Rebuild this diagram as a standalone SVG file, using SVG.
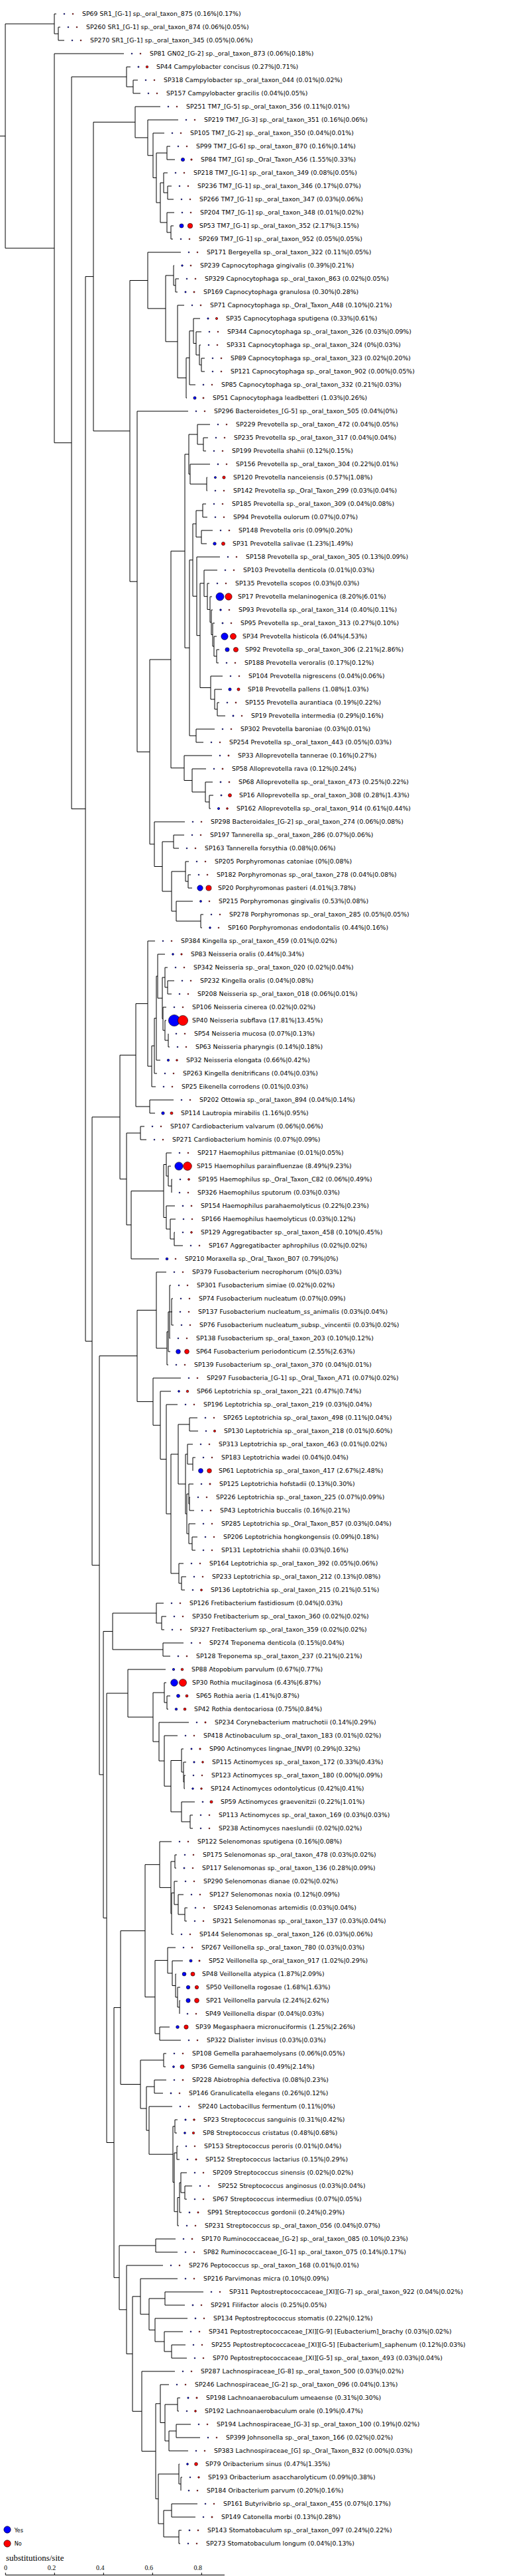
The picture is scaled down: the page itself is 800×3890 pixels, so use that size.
<svg xmlns="http://www.w3.org/2000/svg" width="800" height="3890" viewBox="0 0 800 3890">
<style>
text{font-family:"DejaVu Sans",sans-serif;font-size:9.4px;fill:#000}
circle{stroke:#000;stroke-width:0.6}
.b{fill:#0000ff}
.r{fill:#ff0000}
.tree{fill:none;stroke:#000;stroke-width:1}
.sc{font-family:"Liberation Serif",serif}
</style>
<rect width="800" height="3890" fill="#fff"/>
<g id="connectors" class="tree">
<path d="M0 205.4H8 M82 36H8V374.85H82 M85 21H82V51H88 M91 41H88V61H97 M187 81H82V668.7H108 M191 116H108V1221.45H129 M197 101H191V131H201 M208 121H201V141H212 M141 417.6H129V2025.3H139 M204 184.4H141V650.85H196 M242 161H204V207.9H223 M269 181H223V234.75H231 M248 201H231V268.5H236 M252 231H236V306H242 M257 221H252V241H264 M247 276H242V336H252 M253 261H247V291H253 M259 281H253V301H262 M263 321H252V351H258 M262 341H258V361H261"/>
<path d="M223 423.5H196V878.2H207 M273 381H223V465.9H250 M262 416H250V515.85H268 M263 401H262V431H265 M270 421H265V441H268 M278 461H268V570.7H281 M286 540.4H281V601H282 M292 499.75H286V581H295 M302 481H292V518.5H296 M304 501H296V536H301 M303 521H301V551H304 M309 541H304V561H309"/>
<path d="M284 621H207V1135.4H226 M258 996H226V1274.75H233 M279 832.2H258V1159.75H278 M285 686H279V978.3H286 M298 656H285V716H287 M317 641H298V671H307 M314 661H307V681H311 M317 701H287V731H312 M313 721H312V741H313 M291 845.7H286V1111H296 M296 791H291V900.3H297 M306 771H296V811H304 M311 761H306V781H313 M321 801H304V821H312 M332 841H297V959.7H302 M308 880.85H302V1038.5H318 M328 861H308V900.7H313 M316 881H313V920.4H317 M320 901H317V939.75H319 M321 921H319V958.5H321 M324 941H321V976H323 M327 961H323V991H327 M331 981H327V1001H330 M336 1021H318V1056H324 M335 1041H324V1071H328 M331 1061H328V1081H340 M324 1101H296V1121H307 M320 1141H278V1178.5H290 M311 1161H290V1196H310 M321 1181H310V1211H316 M322 1201H316V1221H318 M279 1241H233V1308.5H245 M262 1271H245V1346H259 M278 1261H262V1281H270 M280 1316H259V1376H266 M285 1301H280V1331H284 M288 1321H284V1341H290 M291 1361H266V1391H303 M307 1381H303V1401H305"/>
<path d="M181 1686.85H139V2363.7H150 M205 1593.3H181V1780.4H191 M223 1515.6H205V1671H226 M234 1421H223V1610.1H229 M233 1579.3H229V1641H235 M236 1537.6H233V1621H237 M238 1474.1H236V1601H242 M249 1441H238V1507.25H245 M249 1476H245V1538.5H246 M253 1461H249V1491H253 M263 1481H253V1501H259 M251 1521H246V1556H249 M251 1541H249V1571H254 M254 1561H254V1581H256 M262 1661H226V1681H234 M212 1711H191V1849.75H198 M218 1701H212V1721H221 M247 1798.5H198V1901H240 M251 1758.5H247V1838.5H251 M259 1741H251V1776H254 M258 1761H254V1791H259 M260 1781H259V1801H259 M264 1821H251V1856H257 M265 1841H257V1871H263 M264 1861H263V1881H276"/>
<path d="M207 2047.55H150V2679.9H156 M236 1978.5H207V2116.6H231 M251 1921H236V2036H252 M254 2011H252V2061H254 M256 1981H254V2041H257 M258 1941H256V2021H257 M256 1981H259 M261 1961H259V2001H262 M259 1981H260 M273 2081H231V2152.25H242 M258 2101H242V2203.5H251 M268 2121H251V2286H258 M269 2196H258V2376H270 M286 2151H269V2241H280 M298 2141H286V2161H299 M283 2196H280V2286H282 M291 2181H283V2211H291 M295 2201H291V2221H291 M285 2256H282V2316H285 M292 2241H285V2271H286 M287 2261H286V2281H293 M295 2301H285V2331H290 M298 2321H290V2341H295 M277 2361H270V2391H274 M281 2381H274V2401H279"/>
<path d="M170 2463.5H156V2896.25H161 M236 2436H170V2491H246 M247 2421H236V2451H244 M251 2441H244V2461H248 M277 2481H246V2501H257 M193 2557H161V3235.5H172 M250 2521H193V2593H231 M248 2556H231V2630H240 M251 2541H248V2571H252 M257 2561H252V2581H254 M285 2601H240V2659.1H248 M268 2621H248V2697.25H258 M274 2658.5H258V2736H274 M277 2641H274V2676H277 M281 2661H277V2691H278 M280 2681H278V2701H279 M294 2721H274V2751H287 M291 2741H287V2761H291"/>
<path d="M182 3031.6H172V3439.4H180 M219 2915.7H182V3147.5H212 M241 2815.7H219V3015.7H234 M259 2781H241V2850.4H258 M264 2811H258V2889.75H259 M267 2801H264V2821H266 M263 2858.5H259V2921H262 M268 2841H263V2876H269 M277 2861H269V2891H279 M283 2881H279V2901H282 M253 2960.4H234V3071H241 M265 2941H253V2979.75H260 M276 2961H260V2998.5H265 M266 2981H265V3016H268 M272 3001H268V3031H271 M272 3021H271V3041H271 M256 3061H241V3081H273 M247 3111H212V3184H221 M251 3101H247V3121H250 M233 3151H221V3217.1H225 M251 3141H233V3161H246 M260 3181H225V3253.2H261 M264 3211H261V3295.4H263 M268 3201H264V3221H267 M267 3251H263V3339.75H268 M269 3241H267V3261H271 M271 3318.5H268V3361H270 M273 3296H271V3341H274 M282 3281H273V3311H279 M290 3301H279V3321H282"/>
<path d="M235 3391H180V3487.8H191 M265 3381H235V3401H268 M246 3421H191V3554.6H200 M212 3467.9H200V3641.3H214 M268 3441H212V3494.75H225 M249 3471H225V3518.5H234 M307 3461H249V3481H279 M283 3501H234V3536H248 M276 3521H248V3551H259 M280 3541H259V3561H282 M264 3581H214V3701.6H235 M242 3629.75H235V3773.5H239 M255 3601H242V3658.5H249 M268 3631H249V3686H255 M272 3621H268V3641H270 M266 3671H255V3701H284 M288 3661H266V3681H302 M270 3736H239V3811H247 M271 3721H270V3751H273 M275 3741H273V3761H273 M259 3791H247V3831H270 M298 3781H259V3801H295 M274 3821H270V3841H272"/>
</g>
<g id="SP69"><circle class="b" cx="97" cy="21" r="0.9"/><circle class="r" cx="110" cy="21" r="0.9"/><text x="124" y="24.3">SP69 SR1_[G-1] sp._oral_taxon_875 (0.16%|0.17%)</text></g>
<g id="SP260"><circle class="b" cx="103" cy="41" r="0.9"/><circle class="r" cx="116" cy="41" r="0.9"/><text x="130" y="44.3">SP260 SR1_[G-1] sp._oral_taxon_874 (0.06%|0.05%)</text></g>
<g id="SP270"><circle class="b" cx="109" cy="61" r="0.9"/><circle class="r" cx="122" cy="61" r="0.9"/><text x="136" y="64.3">SP270 SR1_[G-1] sp._oral_taxon_345 (0.05%|0.06%)</text></g>
<g id="SP81"><circle class="b" cx="199" cy="81" r="0.9"/><circle class="r" cx="212" cy="81" r="0.9"/><text x="226" y="84.3">SP81 GN02_[G-2] sp._oral_taxon_873 (0.06%|0.18%)</text></g>
<g id="SP44"><circle class="b" cx="209" cy="101" r="1.09"/><circle class="r" cx="222" cy="101" r="1.77"/><text x="236" y="104.3">SP44 Campylobacter concisus (0.27%|0.71%)</text></g>
<g id="SP318"><circle class="b" cx="220" cy="121" r="0.9"/><circle class="r" cx="233" cy="121" r="0.9"/><text x="247" y="124.3">SP318 Campylobacter sp._oral_taxon_044 (0.01%|0.02%)</text></g>
<g id="SP157"><circle class="b" cx="224" cy="141" r="0.9"/><circle class="r" cx="237" cy="141" r="0.9"/><text x="251" y="144.3">SP157 Campylobacter gracilis (0.04%|0.05%)</text></g>
<g id="SP251"><circle class="b" cx="254" cy="161" r="0.9"/><circle class="r" cx="267" cy="161" r="0.9"/><text x="281" y="164.3">SP251 TM7_[G-5] sp._oral_taxon_356 (0.11%|0.01%)</text></g>
<g id="SP219"><circle class="b" cx="281" cy="181" r="0.9"/><circle class="r" cx="294" cy="181" r="0.9"/><text x="308" y="184.3">SP219 TM7_[G-3] sp._oral_taxon_351 (0.16%|0.06%)</text></g>
<g id="SP105"><circle class="b" cx="260" cy="201" r="0.9"/><circle class="r" cx="273" cy="201" r="0.9"/><text x="287" y="204.3">SP105 TM7_[G-2] sp._oral_taxon_350 (0.04%|0.01%)</text></g>
<g id="SP99"><circle class="b" cx="269" cy="221" r="0.9"/><circle class="r" cx="282" cy="221" r="0.9"/><text x="296" y="224.3">SP99 TM7_[G-6] sp._oral_taxon_870 (0.16%|0.14%)</text></g>
<g id="SP84"><circle class="b" cx="276" cy="241" r="2.61"/><circle class="r" cx="289" cy="241" r="1.21"/><text x="303" y="244.3">SP84 TM7_[G] sp._Oral_Taxon_A56 (1.55%|0.33%)</text></g>
<g id="SP218"><circle class="b" cx="265" cy="261" r="0.9"/><circle class="r" cx="278" cy="261" r="0.9"/><text x="292" y="264.3">SP218 TM7_[G-1] sp._oral_taxon_349 (0.08%|0.05%)</text></g>
<g id="SP236"><circle class="b" cx="271" cy="281" r="0.9"/><circle class="r" cx="284" cy="281" r="0.9"/><text x="298" y="284.3">SP236 TM7_[G-1] sp._oral_taxon_346 (0.17%|0.07%)</text></g>
<g id="SP266"><circle class="b" cx="274" cy="301" r="0.9"/><circle class="r" cx="287" cy="301" r="0.9"/><text x="301" y="304.3">SP266 TM7_[G-1] sp._oral_taxon_347 (0.03%|0.06%)</text></g>
<g id="SP204"><circle class="b" cx="275" cy="321" r="0.9"/><circle class="r" cx="288" cy="321" r="0.9"/><text x="302" y="324.3">SP204 TM7_[G-1] sp._oral_taxon_348 (0.01%|0.02%)</text></g>
<g id="SP53"><circle class="b" cx="274" cy="341" r="3.09"/><circle class="r" cx="287" cy="341" r="3.73"/><text x="301" y="344.3">SP53 TM7_[G-1] sp._oral_taxon_352 (2.17%|3.15%)</text></g>
<g id="SP269"><circle class="b" cx="273" cy="361" r="0.9"/><circle class="r" cx="286" cy="361" r="0.9"/><text x="300" y="364.3">SP269 TM7_[G-1] sp._oral_taxon_952 (0.05%|0.05%)</text></g>
<g id="SP171"><circle class="b" cx="285" cy="381" r="0.9"/><circle class="r" cx="298" cy="381" r="0.9"/><text x="312" y="384.3">SP171 Bergeyella sp._oral_taxon_322 (0.11%|0.05%)</text></g>
<g id="SP239"><circle class="b" cx="275" cy="401" r="1.31"/><circle class="r" cx="288" cy="401" r="0.96"/><text x="302" y="404.3">SP239 Capnocytophaga gingivalis (0.39%|0.21%)</text></g>
<g id="SP329"><circle class="b" cx="282" cy="421" r="0.9"/><circle class="r" cx="295" cy="421" r="0.9"/><text x="309" y="424.3">SP329 Capnocytophaga sp._oral_taxon_863 (0.02%|0.05%)</text></g>
<g id="SP169"><circle class="b" cx="280" cy="441" r="1.15"/><circle class="r" cx="293" cy="441" r="1.11"/><text x="307" y="444.3">SP169 Capnocytophaga granulosa (0.30%|0.28%)</text></g>
<g id="SP71"><circle class="b" cx="290" cy="461" r="0.9"/><circle class="r" cx="303" cy="461" r="0.96"/><text x="317" y="464.3">SP71 Capnocytophaga sp._Oral_Taxon_A48 (0.10%|0.21%)</text></g>
<g id="SP35"><circle class="b" cx="314" cy="481" r="1.21"/><circle class="r" cx="327" cy="481" r="1.64"/><text x="341" y="484.3">SP35 Capnocytophaga sputigena (0.33%|0.61%)</text></g>
<g id="SP344"><circle class="b" cx="316" cy="501" r="0.9"/><circle class="r" cx="329" cy="501" r="0.9"/><text x="343" y="504.3">SP344 Capnocytophaga sp._oral_taxon_326 (0.03%|0.09%)</text></g>
<g id="SP331"><circle class="b" cx="315" cy="521" r="0.9"/><circle class="r" cx="328" cy="521" r="0.9"/><text x="342" y="524.3">SP331 Capnocytophaga sp._oral_taxon_324 (0%|0.03%)</text></g>
<g id="SP89"><circle class="b" cx="321" cy="541" r="0.9"/><circle class="r" cx="334" cy="541" r="0.94"/><text x="348" y="544.3">SP89 Capnocytophaga sp._oral_taxon_323 (0.02%|0.20%)</text></g>
<g id="SP121"><circle class="b" cx="321" cy="561" r="0.9"/><circle class="r" cx="334" cy="561" r="0.9"/><text x="348" y="564.3">SP121 Capnocytophaga sp._oral_taxon_902 (0.00%|0.05%)</text></g>
<g id="SP85"><circle class="b" cx="307" cy="581" r="0.96"/><circle class="r" cx="320" cy="581" r="0.9"/><text x="334" y="584.3">SP85 Capnocytophaga sp._oral_taxon_332 (0.21%|0.03%)</text></g>
<g id="SP51"><circle class="b" cx="294" cy="601" r="2.13"/><circle class="r" cx="307" cy="601" r="1.07"/><text x="321" y="604.3">SP51 Capnocytophaga leadbetteri (1.03%|0.26%)</text></g>
<g id="SP296"><circle class="b" cx="296" cy="621" r="0.9"/><circle class="r" cx="309" cy="621" r="0.9"/><text x="323" y="624.3">SP296 Bacteroidetes_[G-5] sp._oral_taxon_505 (0.04%|0%)</text></g>
<g id="SP229"><circle class="b" cx="329" cy="641" r="0.9"/><circle class="r" cx="342" cy="641" r="0.9"/><text x="356" y="644.3">SP229 Prevotella sp._oral_taxon_472 (0.04%|0.05%)</text></g>
<g id="SP235"><circle class="b" cx="326" cy="661" r="0.9"/><circle class="r" cx="339" cy="661" r="0.9"/><text x="353" y="664.3">SP235 Prevotella sp._oral_taxon_317 (0.04%|0.04%)</text></g>
<g id="SP199"><circle class="b" cx="323" cy="681" r="0.9"/><circle class="r" cx="336" cy="681" r="0.9"/><text x="350" y="684.3">SP199 Prevotella shahii (0.12%|0.15%)</text></g>
<g id="SP156"><circle class="b" cx="329" cy="701" r="0.98"/><circle class="r" cx="342" cy="701" r="0.9"/><text x="356" y="704.3">SP156 Prevotella sp._oral_taxon_304 (0.22%|0.01%)</text></g>
<g id="SP120"><circle class="b" cx="325" cy="721" r="1.59"/><circle class="r" cx="338" cy="721" r="2.18"/><text x="352" y="724.3">SP120 Prevotella nanceiensis (0.57%|1.08%)</text></g>
<g id="SP142"><circle class="b" cx="325" cy="741" r="0.9"/><circle class="r" cx="338" cy="741" r="0.9"/><text x="352" y="744.3">SP142 Prevotella sp._Oral_Taxon_299 (0.03%|0.04%)</text></g>
<g id="SP185"><circle class="b" cx="323" cy="761" r="0.9"/><circle class="r" cx="336" cy="761" r="0.9"/><text x="350" y="764.3">SP185 Prevotella sp._oral_taxon_309 (0.04%|0.08%)</text></g>
<g id="SP94"><circle class="b" cx="325" cy="781" r="0.9"/><circle class="r" cx="338" cy="781" r="0.9"/><text x="352" y="784.3">SP94 Prevotella oulorum (0.07%|0.07%)</text></g>
<g id="SP148"><circle class="b" cx="333" cy="801" r="0.9"/><circle class="r" cx="346" cy="801" r="0.94"/><text x="360" y="804.3">SP148 Prevotella oris (0.09%|0.20%)</text></g>
<g id="SP31"><circle class="b" cx="324" cy="821" r="2.33"/><circle class="r" cx="337" cy="821" r="2.56"/><text x="351" y="824.3">SP31 Prevotella salivae (1.23%|1.49%)</text></g>
<g id="SP158"><circle class="b" cx="344" cy="841" r="0.9"/><circle class="r" cx="357" cy="841" r="0.9"/><text x="371" y="844.3">SP158 Prevotella sp._oral_taxon_305 (0.13%|0.09%)</text></g>
<g id="SP103"><circle class="b" cx="340" cy="861" r="0.9"/><circle class="r" cx="353" cy="861" r="0.9"/><text x="367" y="864.3">SP103 Prevotella denticola (0.01%|0.03%)</text></g>
<g id="SP135"><circle class="b" cx="328" cy="881" r="0.9"/><circle class="r" cx="341" cy="881" r="0.9"/><text x="355" y="884.3">SP135 Prevotella scopos (0.03%|0.03%)</text></g>
<g id="SP17"><circle class="b" cx="332" cy="901" r="6.01"/><circle class="r" cx="345" cy="901" r="5.15"/><text x="359" y="904.3">SP17 Prevotella melaninogenica (8.20%|6.01%)</text></g>
<g id="SP93"><circle class="b" cx="333" cy="921" r="1.33"/><circle class="r" cx="346" cy="921" r="0.9"/><text x="360" y="924.3">SP93 Prevotella sp._oral_taxon_314 (0.40%|0.11%)</text></g>
<g id="SP95"><circle class="b" cx="336" cy="941" r="1.09"/><circle class="r" cx="349" cy="941" r="0.9"/><text x="363" y="944.3">SP95 Prevotella sp._oral_taxon_313 (0.27%|0.10%)</text></g>
<g id="SP34"><circle class="b" cx="339" cy="961" r="5.16"/><circle class="r" cx="352" cy="961" r="4.47"/><text x="366" y="964.3">SP34 Prevotella histicola (6.04%|4.53%)</text></g>
<g id="SP92"><circle class="b" cx="343" cy="981" r="3.12"/><circle class="r" cx="356" cy="981" r="3.55"/><text x="370" y="984.3">SP92 Prevotella sp._oral_taxon_306 (2.21%|2.86%)</text></g>
<g id="SP188"><circle class="b" cx="342" cy="1001" r="0.9"/><circle class="r" cx="355" cy="1001" r="0.9"/><text x="369" y="1004.3">SP188 Prevotella veroralis (0.17%|0.12%)</text></g>
<g id="SP104"><circle class="b" cx="348" cy="1021" r="0.9"/><circle class="r" cx="361" cy="1021" r="0.9"/><text x="375" y="1024.3">SP104 Prevotella nigrescens (0.04%|0.06%)</text></g>
<g id="SP18"><circle class="b" cx="347" cy="1041" r="2.18"/><circle class="r" cx="360" cy="1041" r="2.13"/><text x="374" y="1044.3">SP18 Prevotella pallens (1.08%|1.03%)</text></g>
<g id="SP155"><circle class="b" cx="343" cy="1061" r="0.9"/><circle class="r" cx="356" cy="1061" r="0.98"/><text x="370" y="1064.3">SP155 Prevotella aurantiaca (0.19%|0.22%)</text></g>
<g id="SP19"><circle class="b" cx="352" cy="1081" r="1.13"/><circle class="r" cx="365" cy="1081" r="0.9"/><text x="379" y="1084.3">SP19 Prevotella intermedia (0.29%|0.16%)</text></g>
<g id="SP302"><circle class="b" cx="336" cy="1101" r="0.9"/><circle class="r" cx="349" cy="1101" r="0.9"/><text x="363" y="1104.3">SP302 Prevotella baroniae (0.03%|0.01%)</text></g>
<g id="SP254"><circle class="b" cx="319" cy="1121" r="0.9"/><circle class="r" cx="332" cy="1121" r="0.9"/><text x="346" y="1124.3">SP254 Prevotella sp._oral_taxon_443 (0.05%|0.03%)</text></g>
<g id="SP33"><circle class="b" cx="332" cy="1141" r="0.9"/><circle class="r" cx="345" cy="1141" r="1.09"/><text x="359" y="1144.3">SP33 Alloprevotella tannerae (0.16%|0.27%)</text></g>
<g id="SP58"><circle class="b" cx="323" cy="1161" r="0.9"/><circle class="r" cx="336" cy="1161" r="1.03"/><text x="350" y="1164.3">SP58 Alloprevotella rava (0.12%|0.24%)</text></g>
<g id="SP68"><circle class="b" cx="333" cy="1181" r="1.05"/><circle class="r" cx="346" cy="1181" r="0.98"/><text x="360" y="1184.3">SP68 Alloprevotella sp._oral_taxon_473 (0.25%|0.22%)</text></g>
<g id="SP16"><circle class="b" cx="334" cy="1201" r="1.11"/><circle class="r" cx="347" cy="1201" r="2.51"/><text x="361" y="1204.3">SP16 Alloprevotella sp._oral_taxon_308 (0.28%|1.43%)</text></g>
<g id="SP162"><circle class="b" cx="330" cy="1221" r="1.64"/><circle class="r" cx="343" cy="1221" r="1.39"/><text x="357" y="1224.3">SP162 Alloprevotella sp._oral_taxon_914 (0.61%|0.44%)</text></g>
<g id="SP298"><circle class="b" cx="291" cy="1241" r="0.9"/><circle class="r" cx="304" cy="1241" r="0.9"/><text x="318" y="1244.3">SP298 Bacteroidales_[G-2] sp._oral_taxon_274 (0.06%|0.08%)</text></g>
<g id="SP197"><circle class="b" cx="290" cy="1261" r="0.9"/><circle class="r" cx="303" cy="1261" r="0.9"/><text x="317" y="1264.3">SP197 Tannerella sp._oral_taxon_286 (0.07%|0.06%)</text></g>
<g id="SP163"><circle class="b" cx="282" cy="1281" r="0.9"/><circle class="r" cx="295" cy="1281" r="0.9"/><text x="309" y="1284.3">SP163 Tannerella forsythia (0.08%|0.06%)</text></g>
<g id="SP205"><circle class="b" cx="297" cy="1301" r="0.9"/><circle class="r" cx="310" cy="1301" r="0.9"/><text x="324" y="1304.3">SP205 Porphyromonas catoniae (0%|0.08%)</text></g>
<g id="SP182"><circle class="b" cx="300" cy="1321" r="0.9"/><circle class="r" cx="313" cy="1321" r="0.9"/><text x="327" y="1324.3">SP182 Porphyromonas sp._oral_taxon_278 (0.04%|0.08%)</text></g>
<g id="SP20"><circle class="b" cx="302" cy="1341" r="4.21"/><circle class="r" cx="315" cy="1341" r="4.08"/><text x="329" y="1344.3">SP20 Porphyromonas pasteri (4.01%|3.78%)</text></g>
<g id="SP215"><circle class="b" cx="303" cy="1361" r="1.53"/><circle class="r" cx="316" cy="1361" r="0.9"/><text x="330" y="1364.3">SP215 Porphyromonas gingivalis (0.53%|0.08%)</text></g>
<g id="SP278"><circle class="b" cx="319" cy="1381" r="0.9"/><circle class="r" cx="332" cy="1381" r="0.9"/><text x="346" y="1384.3">SP278 Porphyromonas sp._oral_taxon_285 (0.05%|0.05%)</text></g>
<g id="SP160"><circle class="b" cx="317" cy="1401" r="1.39"/><circle class="r" cx="330" cy="1401" r="0.9"/><text x="344" y="1404.3">SP160 Porphyromonas endodontalis (0.44%|0.16%)</text></g>
<g id="SP384"><circle class="b" cx="246" cy="1421" r="0.9"/><circle class="r" cx="259" cy="1421" r="0.9"/><text x="273" y="1424.3">SP384 Kingella sp._oral_taxon_459 (0.01%|0.02%)</text></g>
<g id="SP83"><circle class="b" cx="261" cy="1441" r="1.39"/><circle class="r" cx="274" cy="1441" r="1.22"/><text x="288" y="1444.3">SP83 Neisseria oralis (0.44%|0.34%)</text></g>
<g id="SP342"><circle class="b" cx="265" cy="1461" r="0.9"/><circle class="r" cx="278" cy="1461" r="0.9"/><text x="292" y="1464.3">SP342 Neisseria sp._oral_taxon_020 (0.02%|0.04%)</text></g>
<g id="SP232"><circle class="b" cx="275" cy="1481" r="0.9"/><circle class="r" cx="288" cy="1481" r="0.9"/><text x="302" y="1484.3">SP232 Kingella oralis (0.04%|0.08%)</text></g>
<g id="SP208"><circle class="b" cx="271" cy="1501" r="0.9"/><circle class="r" cx="284" cy="1501" r="0.9"/><text x="298" y="1504.3">SP208 Neisseria sp._oral_taxon_018 (0.06%|0.01%)</text></g>
<g id="SP106"><circle class="b" cx="263" cy="1521" r="0.9"/><circle class="r" cx="276" cy="1521" r="0.9"/><text x="290" y="1524.3">SP106 Neisseria cinerea (0.02%|0.02%)</text></g>
<g id="SP40"><circle class="b" cx="263" cy="1541" r="8.6"/><circle class="r" cx="276" cy="1541" r="7.6"/><text x="290" y="1544.3">SP40 Neisseria subflava (17.81%|13.45%)</text></g>
<g id="SP54"><circle class="b" cx="266" cy="1561" r="0.9"/><circle class="r" cx="279" cy="1561" r="0.9"/><text x="293" y="1564.3">SP54 Neisseria mucosa (0.07%|0.13%)</text></g>
<g id="SP63"><circle class="b" cx="268" cy="1581" r="0.9"/><circle class="r" cx="281" cy="1581" r="0.9"/><text x="295" y="1584.3">SP63 Neisseria pharyngis (0.14%|0.18%)</text></g>
<g id="SP32"><circle class="b" cx="254" cy="1601" r="1.71"/><circle class="r" cx="267" cy="1601" r="1.36"/><text x="281" y="1604.3">SP32 Neisseria elongata (0.66%|0.42%)</text></g>
<g id="SP263"><circle class="b" cx="249" cy="1621" r="0.9"/><circle class="r" cx="262" cy="1621" r="0.9"/><text x="276" y="1624.3">SP263 Kingella denitrificans (0.04%|0.03%)</text></g>
<g id="SP25"><circle class="b" cx="247" cy="1641" r="0.9"/><circle class="r" cx="260" cy="1641" r="0.9"/><text x="274" y="1644.3">SP25 Eikenella corrodens (0.01%|0.03%)</text></g>
<g id="SP202"><circle class="b" cx="274" cy="1661" r="0.9"/><circle class="r" cx="287" cy="1661" r="0.9"/><text x="301" y="1664.3">SP202 Ottowia sp._oral_taxon_894 (0.04%|0.14%)</text></g>
<g id="SP114"><circle class="b" cx="246" cy="1681" r="2.26"/><circle class="r" cx="259" cy="1681" r="2.05"/><text x="273" y="1684.3">SP114 Lautropia mirabilis (1.16%|0.95%)</text></g>
<g id="SP107"><circle class="b" cx="230" cy="1701" r="0.9"/><circle class="r" cx="243" cy="1701" r="0.9"/><text x="257" y="1704.3">SP107 Cardiobacterium valvarum (0.06%|0.06%)</text></g>
<g id="SP271"><circle class="b" cx="233" cy="1721" r="0.9"/><circle class="r" cx="246" cy="1721" r="0.9"/><text x="260" y="1724.3">SP271 Cardiobacterium hominis (0.07%|0.09%)</text></g>
<g id="SP217"><circle class="b" cx="271" cy="1741" r="0.9"/><circle class="r" cx="284" cy="1741" r="0.9"/><text x="298" y="1744.3">SP217 Haemophilus pittmaniae (0.01%|0.05%)</text></g>
<g id="SP15"><circle class="b" cx="270" cy="1761" r="6.12"/><circle class="r" cx="283" cy="1761" r="6.38"/><text x="297" y="1764.3">SP15 Haemophilus parainfluenzae (8.49%|9.23%)</text></g>
<g id="SP195"><circle class="b" cx="272" cy="1781" r="0.9"/><circle class="r" cx="285" cy="1781" r="1.47"/><text x="299" y="1784.3">SP195 Haemophilus sp._Oral_Taxon_C82 (0.06%|0.49%)</text></g>
<g id="SP326"><circle class="b" cx="271" cy="1801" r="0.9"/><circle class="r" cx="284" cy="1801" r="0.9"/><text x="298" y="1804.3">SP326 Haemophilus sputorum (0.03%|0.03%)</text></g>
<g id="SP154"><circle class="b" cx="276" cy="1821" r="0.98"/><circle class="r" cx="289" cy="1821" r="1.0"/><text x="303" y="1824.3">SP154 Haemophilus parahaemolyticus (0.22%|0.23%)</text></g>
<g id="SP166"><circle class="b" cx="277" cy="1841" r="0.9"/><circle class="r" cx="290" cy="1841" r="0.9"/><text x="304" y="1844.3">SP166 Haemophilus haemolyticus (0.03%|0.12%)</text></g>
<g id="SP129"><circle class="b" cx="276" cy="1861" r="0.9"/><circle class="r" cx="289" cy="1861" r="1.41"/><text x="303" y="1864.3">SP129 Aggregatibacter sp._oral_taxon_458 (0.10%|0.45%)</text></g>
<g id="SP167"><circle class="b" cx="288" cy="1881" r="0.9"/><circle class="r" cx="301" cy="1881" r="0.9"/><text x="315" y="1884.3">SP167 Aggregatibacter aphrophilus (0.02%|0.02%)</text></g>
<g id="SP210"><circle class="b" cx="252" cy="1901" r="1.87"/><circle class="r" cx="265" cy="1901" r="0.9"/><text x="279" y="1904.3">SP210 Moraxella sp._Oral_Taxon_B07 (0.79%|0%)</text></g>
<g id="SP379"><circle class="b" cx="263" cy="1921" r="0.9"/><circle class="r" cx="276" cy="1921" r="0.9"/><text x="290" y="1924.3">SP379 Fusobacterium necrophorum (0%|0.03%)</text></g>
<g id="SP301"><circle class="b" cx="270" cy="1941" r="0.9"/><circle class="r" cx="283" cy="1941" r="0.9"/><text x="297" y="1944.3">SP301 Fusobacterium simiae (0.02%|0.02%)</text></g>
<g id="SP74"><circle class="b" cx="273" cy="1961" r="0.9"/><circle class="r" cx="286" cy="1961" r="0.9"/><text x="300" y="1964.3">SP74 Fusobacterium nucleatum (0.07%|0.09%)</text></g>
<g id="SP137"><circle class="b" cx="272" cy="1981" r="0.9"/><circle class="r" cx="285" cy="1981" r="0.9"/><text x="299" y="1984.3">SP137 Fusobacterium nucleatum_ss_animalis (0.03%|0.04%)</text></g>
<g id="SP76"><circle class="b" cx="274" cy="2001" r="0.9"/><circle class="r" cx="287" cy="2001" r="0.9"/><text x="301" y="2004.3">SP76 Fusobacterium nucleatum_subsp._vincentii (0.03%|0.02%)</text></g>
<g id="SP138"><circle class="b" cx="269" cy="2021" r="0.9"/><circle class="r" cx="282" cy="2021" r="0.9"/><text x="296" y="2024.3">SP138 Fusobacterium sp._oral_taxon_203 (0.10%|0.12%)</text></g>
<g id="SP64"><circle class="b" cx="269" cy="2041" r="3.35"/><circle class="r" cx="282" cy="2041" r="3.41"/><text x="296" y="2044.3">SP64 Fusobacterium periodonticum (2.55%|2.63%)</text></g>
<g id="SP139"><circle class="b" cx="266" cy="2061" r="0.9"/><circle class="r" cx="279" cy="2061" r="0.9"/><text x="293" y="2064.3">SP139 Fusobacterium sp._oral_taxon_370 (0.04%|0.01%)</text></g>
<g id="SP297"><circle class="b" cx="285" cy="2081" r="0.9"/><circle class="r" cx="298" cy="2081" r="0.9"/><text x="312" y="2084.3">SP297 Fusobacteria_[G-1] sp._Oral_Taxon_A71 (0.07%|0.02%)</text></g>
<g id="SP66"><circle class="b" cx="270" cy="2101" r="1.44"/><circle class="r" cx="283" cy="2101" r="1.81"/><text x="297" y="2104.3">SP66 Leptotrichia sp._oral_taxon_221 (0.47%|0.74%)</text></g>
<g id="SP196"><circle class="b" cx="280" cy="2121" r="0.9"/><circle class="r" cx="293" cy="2121" r="0.9"/><text x="307" y="2124.3">SP196 Leptotrichia sp._oral_taxon_219 (0.03%|0.04%)</text></g>
<g id="SP265"><circle class="b" cx="310" cy="2141" r="0.9"/><circle class="r" cx="323" cy="2141" r="0.9"/><text x="337" y="2144.3">SP265 Leptotrichia sp._oral_taxon_498 (0.11%|0.04%)</text></g>
<g id="SP130"><circle class="b" cx="311" cy="2161" r="0.9"/><circle class="r" cx="324" cy="2161" r="1.63"/><text x="338" y="2164.3">SP130 Leptotrichia sp._oral_taxon_218 (0.01%|0.60%)</text></g>
<g id="SP313"><circle class="b" cx="303" cy="2181" r="0.9"/><circle class="r" cx="316" cy="2181" r="0.9"/><text x="330" y="2184.3">SP313 Leptotrichia sp._oral_taxon_463 (0.01%|0.02%)</text></g>
<g id="SP183"><circle class="b" cx="307" cy="2201" r="0.9"/><circle class="r" cx="320" cy="2201" r="0.9"/><text x="334" y="2204.3">SP183 Leptotrichia wadei (0.04%|0.04%)</text></g>
<g id="SP61"><circle class="b" cx="303" cy="2221" r="3.43"/><circle class="r" cx="316" cy="2221" r="3.31"/><text x="330" y="2224.3">SP61 Leptotrichia sp._oral_taxon_417 (2.67%|2.48%)</text></g>
<g id="SP125"><circle class="b" cx="304" cy="2241" r="0.9"/><circle class="r" cx="317" cy="2241" r="1.15"/><text x="331" y="2244.3">SP125 Leptotrichia hofstadii (0.13%|0.30%)</text></g>
<g id="SP226"><circle class="b" cx="299" cy="2261" r="0.9"/><circle class="r" cx="312" cy="2261" r="0.9"/><text x="326" y="2264.3">SP226 Leptotrichia sp._oral_taxon_225 (0.07%|0.09%)</text></g>
<g id="SP43"><circle class="b" cx="305" cy="2281" r="0.9"/><circle class="r" cx="318" cy="2281" r="0.96"/><text x="332" y="2284.3">SP43 Leptotrichia buccalis (0.16%|0.21%)</text></g>
<g id="SP285"><circle class="b" cx="307" cy="2301" r="0.9"/><circle class="r" cx="320" cy="2301" r="0.9"/><text x="334" y="2304.3">SP285 Leptotrichia sp._Oral_Taxon_B57 (0.03%|0.04%)</text></g>
<g id="SP206"><circle class="b" cx="310" cy="2321" r="0.9"/><circle class="r" cx="323" cy="2321" r="0.9"/><text x="337" y="2324.3">SP206 Leptotrichia hongkongensis (0.09%|0.18%)</text></g>
<g id="SP131"><circle class="b" cx="307" cy="2341" r="0.9"/><circle class="r" cx="320" cy="2341" r="0.9"/><text x="334" y="2344.3">SP131 Leptotrichia shahii (0.03%|0.16%)</text></g>
<g id="SP164"><circle class="b" cx="289" cy="2361" r="0.9"/><circle class="r" cx="302" cy="2361" r="0.9"/><text x="316" y="2364.3">SP164 Leptotrichia sp._oral_taxon_392 (0.05%|0.06%)</text></g>
<g id="SP233"><circle class="b" cx="293" cy="2381" r="0.9"/><circle class="r" cx="306" cy="2381" r="0.9"/><text x="320" y="2384.3">SP233 Leptotrichia sp._oral_taxon_212 (0.13%|0.08%)</text></g>
<g id="SP136"><circle class="b" cx="291" cy="2401" r="0.96"/><circle class="r" cx="304" cy="2401" r="1.5"/><text x="318" y="2404.3">SP136 Leptotrichia sp._oral_taxon_215 (0.21%|0.51%)</text></g>
<g id="SP126"><circle class="b" cx="259" cy="2421" r="0.9"/><circle class="r" cx="272" cy="2421" r="0.9"/><text x="286" y="2424.3">SP126 Fretibacterium fastidiosum (0.04%|0.03%)</text></g>
<g id="SP350"><circle class="b" cx="263" cy="2441" r="0.9"/><circle class="r" cx="276" cy="2441" r="0.9"/><text x="290" y="2444.3">SP350 Fretibacterium sp._oral_taxon_360 (0.02%|0.02%)</text></g>
<g id="SP327"><circle class="b" cx="260" cy="2461" r="0.9"/><circle class="r" cx="273" cy="2461" r="0.9"/><text x="287" y="2464.3">SP327 Fretibacterium sp._oral_taxon_359 (0.02%|0.02%)</text></g>
<g id="SP274"><circle class="b" cx="289" cy="2481" r="0.9"/><circle class="r" cx="302" cy="2481" r="0.9"/><text x="316" y="2484.3">SP274 Treponema denticola (0.15%|0.04%)</text></g>
<g id="SP128"><circle class="b" cx="269" cy="2501" r="0.96"/><circle class="r" cx="282" cy="2501" r="0.96"/><text x="296" y="2504.3">SP128 Treponema sp._oral_taxon_237 (0.21%|0.21%)</text></g>
<g id="SP88"><circle class="b" cx="262" cy="2521" r="1.72"/><circle class="r" cx="275" cy="2521" r="1.84"/><text x="289" y="2524.3">SP88 Atopobium parvulum (0.67%|0.77%)</text></g>
<g id="SP30"><circle class="b" cx="263" cy="2541" r="5.33"/><circle class="r" cx="276" cy="2541" r="5.5"/><text x="290" y="2544.3">SP30 Rothia mucilaginosa (6.43%|6.87%)</text></g>
<g id="SP65"><circle class="b" cx="269" cy="2561" r="2.49"/><circle class="r" cx="282" cy="2561" r="1.96"/><text x="296" y="2564.3">SP65 Rothia aeria (1.41%|0.87%)</text></g>
<g id="SP42"><circle class="b" cx="266" cy="2581" r="1.82"/><circle class="r" cx="279" cy="2581" r="1.92"/><text x="293" y="2584.3">SP42 Rothia dentocariosa (0.75%|0.84%)</text></g>
<g id="SP234"><circle class="b" cx="297" cy="2601" r="0.9"/><circle class="r" cx="310" cy="2601" r="1.13"/><text x="324" y="2604.3">SP234 Corynebacterium matruchotii (0.14%|0.29%)</text></g>
<g id="SP418"><circle class="b" cx="280" cy="2621" r="0.9"/><circle class="r" cx="293" cy="2621" r="0.9"/><text x="307" y="2624.3">SP418 Actinobaculum sp._oral_taxon_183 (0.01%|0.02%)</text></g>
<g id="SP90"><circle class="b" cx="289" cy="2641" r="1.13"/><circle class="r" cx="302" cy="2641" r="1.19"/><text x="316" y="2644.3">SP90 Actinomyces lingnae_[NVP] (0.29%|0.32%)</text></g>
<g id="SP115"><circle class="b" cx="293" cy="2661" r="1.21"/><circle class="r" cx="306" cy="2661" r="1.38"/><text x="320" y="2664.3">SP115 Actinomyces sp._oral_taxon_172 (0.33%|0.43%)</text></g>
<g id="SP123"><circle class="b" cx="292" cy="2681" r="0.9"/><circle class="r" cx="305" cy="2681" r="0.9"/><text x="319" y="2684.3">SP123 Actinomyces sp._oral_taxon_180 (0.00%|0.09%)</text></g>
<g id="SP124"><circle class="b" cx="291" cy="2701" r="1.36"/><circle class="r" cx="304" cy="2701" r="1.34"/><text x="318" y="2704.3">SP124 Actinomyces odontolyticus (0.42%|0.41%)</text></g>
<g id="SP59"><circle class="b" cx="306" cy="2721" r="0.98"/><circle class="r" cx="319" cy="2721" r="2.11"/><text x="333" y="2724.3">SP59 Actinomyces graevenitzii (0.22%|1.01%)</text></g>
<g id="SP113"><circle class="b" cx="303" cy="2741" r="0.9"/><circle class="r" cx="316" cy="2741" r="0.9"/><text x="330" y="2744.3">SP113 Actinomyces sp._oral_taxon_169 (0.03%|0.03%)</text></g>
<g id="SP238"><circle class="b" cx="303" cy="2761" r="0.9"/><circle class="r" cx="316" cy="2761" r="0.9"/><text x="330" y="2764.3">SP238 Actinomyces naeslundii (0.02%|0.02%)</text></g>
<g id="SP122"><circle class="b" cx="271" cy="2781" r="0.9"/><circle class="r" cx="284" cy="2781" r="0.9"/><text x="298" y="2784.3">SP122 Selenomonas sputigena (0.16%|0.08%)</text></g>
<g id="SP175"><circle class="b" cx="279" cy="2801" r="0.9"/><circle class="r" cx="292" cy="2801" r="0.9"/><text x="306" y="2804.3">SP175 Selenomonas sp._oral_taxon_478 (0.03%|0.02%)</text></g>
<g id="SP117"><circle class="b" cx="278" cy="2821" r="1.11"/><circle class="r" cx="291" cy="2821" r="0.9"/><text x="305" y="2824.3">SP117 Selenomonas sp._oral_taxon_136 (0.28%|0.09%)</text></g>
<g id="SP290"><circle class="b" cx="280" cy="2841" r="0.9"/><circle class="r" cx="293" cy="2841" r="0.9"/><text x="307" y="2844.3">SP290 Selenomonas dianae (0.02%|0.02%)</text></g>
<g id="SP127"><circle class="b" cx="289" cy="2861" r="0.9"/><circle class="r" cx="302" cy="2861" r="0.9"/><text x="316" y="2864.3">SP127 Selenomonas noxia (0.12%|0.09%)</text></g>
<g id="SP243"><circle class="b" cx="295" cy="2881" r="0.9"/><circle class="r" cx="308" cy="2881" r="0.9"/><text x="322" y="2884.3">SP243 Selenomonas artemidis (0.03%|0.04%)</text></g>
<g id="SP321"><circle class="b" cx="294" cy="2901" r="0.9"/><circle class="r" cx="307" cy="2901" r="0.9"/><text x="321" y="2904.3">SP321 Selenomonas sp._oral_taxon_137 (0.03%|0.04%)</text></g>
<g id="SP144"><circle class="b" cx="274" cy="2921" r="0.9"/><circle class="r" cx="287" cy="2921" r="0.9"/><text x="301" y="2924.3">SP144 Selenomonas sp._oral_taxon_126 (0.03%|0.06%)</text></g>
<g id="SP267"><circle class="b" cx="277" cy="2941" r="0.9"/><circle class="r" cx="290" cy="2941" r="0.9"/><text x="304" y="2944.3">SP267 Veillonella sp._oral_taxon_780 (0.03%|0.03%)</text></g>
<g id="SP52"><circle class="b" cx="288" cy="2961" r="2.12"/><circle class="r" cx="301" cy="2961" r="1.13"/><text x="315" y="2964.3">SP52 Veillonella sp._oral_taxon_917 (1.02%|0.29%)</text></g>
<g id="SP48"><circle class="b" cx="278" cy="2981" r="2.87"/><circle class="r" cx="291" cy="2981" r="3.04"/><text x="305" y="2984.3">SP48 Veillonella atypica (1.87%|2.09%)</text></g>
<g id="SP50"><circle class="b" cx="284" cy="3001" r="2.72"/><circle class="r" cx="297" cy="3001" r="2.68"/><text x="311" y="3004.3">SP50 Veillonella rogosae (1.68%|1.63%)</text></g>
<g id="SP21"><circle class="b" cx="284" cy="3021" r="3.14"/><circle class="r" cx="297" cy="3021" r="3.4"/><text x="311" y="3024.3">SP21 Veillonella parvula (2.24%|2.62%)</text></g>
<g id="SP49"><circle class="b" cx="283" cy="3041" r="0.9"/><circle class="r" cx="296" cy="3041" r="0.9"/><text x="310" y="3044.3">SP49 Veillonella dispar (0.04%|0.03%)</text></g>
<g id="SP39"><circle class="b" cx="268" cy="3061" r="2.35"/><circle class="r" cx="281" cy="3061" r="3.16"/><text x="295" y="3064.3">SP39 Megasphaera micronuciformis (1.25%|2.26%)</text></g>
<g id="SP322"><circle class="b" cx="285" cy="3081" r="0.9"/><circle class="r" cx="298" cy="3081" r="0.9"/><text x="312" y="3084.3">SP322 Dialister invisus (0.03%|0.03%)</text></g>
<g id="SP108"><circle class="b" cx="263" cy="3101" r="0.9"/><circle class="r" cx="276" cy="3101" r="0.9"/><text x="290" y="3104.3">SP108 Gemella parahaemolysans (0.06%|0.05%)</text></g>
<g id="SP36"><circle class="b" cx="262" cy="3121" r="1.47"/><circle class="r" cx="275" cy="3121" r="3.07"/><text x="289" y="3124.3">SP36 Gemella sanguinis (0.49%|2.14%)</text></g>
<g id="SP228"><circle class="b" cx="263" cy="3141" r="0.9"/><circle class="r" cx="276" cy="3141" r="1.0"/><text x="290" y="3144.3">SP228 Abiotrophia defectiva (0.08%|0.23%)</text></g>
<g id="SP146"><circle class="b" cx="258" cy="3161" r="1.07"/><circle class="r" cx="271" cy="3161" r="0.9"/><text x="285" y="3164.3">SP146 Granulicatella elegans (0.26%|0.12%)</text></g>
<g id="SP240"><circle class="b" cx="272" cy="3181" r="0.9"/><circle class="r" cx="285" cy="3181" r="0.9"/><text x="299" y="3184.3">SP240 Lactobacillus fermentum (0.11%|0%)</text></g>
<g id="SP23"><circle class="b" cx="280" cy="3201" r="1.17"/><circle class="r" cx="293" cy="3201" r="1.36"/><text x="307" y="3204.3">SP23 Streptococcus sanguinis (0.31%|0.42%)</text></g>
<g id="SP8"><circle class="b" cx="279" cy="3221" r="1.45"/><circle class="r" cx="292" cy="3221" r="1.73"/><text x="306" y="3224.3">SP8 Streptococcus cristatus (0.48%|0.68%)</text></g>
<g id="SP153"><circle class="b" cx="281" cy="3241" r="0.9"/><circle class="r" cx="294" cy="3241" r="0.9"/><text x="308" y="3244.3">SP153 Streptococcus peroris (0.01%|0.04%)</text></g>
<g id="SP152"><circle class="b" cx="283" cy="3261" r="0.9"/><circle class="r" cx="296" cy="3261" r="1.13"/><text x="310" y="3264.3">SP152 Streptococcus lactarius (0.15%|0.29%)</text></g>
<g id="SP209"><circle class="b" cx="294" cy="3281" r="0.9"/><circle class="r" cx="307" cy="3281" r="0.9"/><text x="321" y="3284.3">SP209 Streptococcus sinensis (0.02%|0.02%)</text></g>
<g id="SP252"><circle class="b" cx="302" cy="3301" r="0.9"/><circle class="r" cx="315" cy="3301" r="0.9"/><text x="329" y="3304.3">SP252 Streptococcus anginosus (0.03%|0.04%)</text></g>
<g id="SP67"><circle class="b" cx="294" cy="3321" r="0.9"/><circle class="r" cx="307" cy="3321" r="0.9"/><text x="321" y="3324.3">SP67 Streptococcus intermedius (0.07%|0.05%)</text></g>
<g id="SP91"><circle class="b" cx="286" cy="3341" r="1.03"/><circle class="r" cx="299" cy="3341" r="1.13"/><text x="313" y="3344.3">SP91 Streptococcus gordonii (0.24%|0.29%)</text></g>
<g id="SP231"><circle class="b" cx="282" cy="3361" r="0.9"/><circle class="r" cx="295" cy="3361" r="0.9"/><text x="309" y="3364.3">SP231 Streptococcus sp._oral_taxon_056 (0.04%|0.07%)</text></g>
<g id="SP170"><circle class="b" cx="277" cy="3381" r="0.9"/><circle class="r" cx="290" cy="3381" r="1.0"/><text x="304" y="3384.3">SP170 Ruminococcaceae_[G-2] sp._oral_taxon_085 (0.10%|0.23%)</text></g>
<g id="SP82"><circle class="b" cx="280" cy="3401" r="0.9"/><circle class="r" cx="293" cy="3401" r="0.9"/><text x="307" y="3404.3">SP82 Ruminococcaceae_[G-1] sp._oral_taxon_075 (0.14%|0.17%)</text></g>
<g id="SP276"><circle class="b" cx="258" cy="3421" r="0.9"/><circle class="r" cx="271" cy="3421" r="0.9"/><text x="285" y="3424.3">SP276 Peptococcus sp._oral_taxon_168 (0.01%|0.01%)</text></g>
<g id="SP216"><circle class="b" cx="280" cy="3441" r="0.9"/><circle class="r" cx="293" cy="3441" r="0.9"/><text x="307" y="3444.3">SP216 Parvimonas micra (0.10%|0.09%)</text></g>
<g id="SP311"><circle class="b" cx="319" cy="3461" r="0.9"/><circle class="r" cx="332" cy="3461" r="0.9"/><text x="346" y="3464.3">SP311 Peptostreptococcaceae_[XI][G-7] sp._oral_taxon_922 (0.04%|0.02%)</text></g>
<g id="SP291"><circle class="b" cx="291" cy="3481" r="1.05"/><circle class="r" cx="304" cy="3481" r="0.9"/><text x="318" y="3484.3">SP291 Filifactor alocis (0.25%|0.05%)</text></g>
<g id="SP134"><circle class="b" cx="295" cy="3501" r="0.98"/><circle class="r" cx="308" cy="3501" r="0.9"/><text x="322" y="3504.3">SP134 Peptostreptococcus stomatis (0.22%|0.12%)</text></g>
<g id="SP341"><circle class="b" cx="288" cy="3521" r="0.9"/><circle class="r" cx="301" cy="3521" r="0.9"/><text x="315" y="3524.3">SP341 Peptostreptococcaceae_[XI][G-9] [Eubacterium]_brachy (0.03%|0.02%)</text></g>
<g id="SP255"><circle class="b" cx="292" cy="3541" r="0.9"/><circle class="r" cx="305" cy="3541" r="0.9"/><text x="319" y="3544.3">SP255 Peptostreptococcaceae_[XI][G-5] [Eubacterium]_saphenum (0.12%|0.03%)</text></g>
<g id="SP70"><circle class="b" cx="294" cy="3561" r="0.9"/><circle class="r" cx="307" cy="3561" r="0.9"/><text x="321" y="3564.3">SP70 Peptostreptococcaceae_[XI][G-5] sp._oral_taxon_493 (0.03%|0.04%)</text></g>
<g id="SP287"><circle class="b" cx="276" cy="3581" r="0.9"/><circle class="r" cx="289" cy="3581" r="0.9"/><text x="303" y="3584.3">SP287 Lachnospiraceae_[G-8] sp._oral_taxon_500 (0.03%|0.02%)</text></g>
<g id="SP246"><circle class="b" cx="267" cy="3601" r="0.9"/><circle class="r" cx="280" cy="3601" r="0.9"/><text x="294" y="3604.3">SP246 Lachnospiraceae_[G-2] sp._oral_taxon_096 (0.04%|0.13%)</text></g>
<g id="SP198"><circle class="b" cx="284" cy="3621" r="1.17"/><circle class="r" cx="297" cy="3621" r="1.15"/><text x="311" y="3624.3">SP198 Lachnoanaerobaculum umeaense (0.31%|0.30%)</text></g>
<g id="SP192"><circle class="b" cx="282" cy="3641" r="0.9"/><circle class="r" cx="295" cy="3641" r="1.44"/><text x="309" y="3644.3">SP192 Lachnoanaerobaculum orale (0.19%|0.47%)</text></g>
<g id="SP194"><circle class="b" cx="300" cy="3661" r="0.9"/><circle class="r" cx="313" cy="3661" r="0.9"/><text x="327" y="3664.3">SP194 Lachnospiraceae_[G-3] sp._oral_taxon_100 (0.19%|0.02%)</text></g>
<g id="SP399"><circle class="b" cx="314" cy="3681" r="0.9"/><circle class="r" cx="327" cy="3681" r="0.9"/><text x="341" y="3684.3">SP399 Johnsonella sp._oral_taxon_166 (0.02%|0.02%)</text></g>
<g id="SP383"><circle class="b" cx="296" cy="3701" r="0.9"/><circle class="r" cx="309" cy="3701" r="0.9"/><text x="323" y="3704.3">SP383 Lachnospiraceae_[G] sp._Oral_Taxon_B32 (0.00%|0.03%)</text></g>
<g id="SP79"><circle class="b" cx="283" cy="3721" r="1.44"/><circle class="r" cx="296" cy="3721" r="2.44"/><text x="310" y="3724.3">SP79 Oribacterium sinus (0.47%|1.35%)</text></g>
<g id="SP193"><circle class="b" cx="287" cy="3741" r="0.9"/><circle class="r" cx="300" cy="3741" r="1.29"/><text x="314" y="3744.3">SP193 Oribacterium asaccharolyticum (0.09%|0.38%)</text></g>
<g id="SP184"><circle class="b" cx="285" cy="3761" r="0.94"/><circle class="r" cx="298" cy="3761" r="0.9"/><text x="312" y="3764.3">SP184 Oribacterium parvum (0.20%|0.16%)</text></g>
<g id="SP161"><circle class="b" cx="310" cy="3781" r="0.9"/><circle class="r" cx="323" cy="3781" r="0.9"/><text x="337" y="3784.3">SP161 Butyrivibrio sp._oral_taxon_455 (0.07%|0.17%)</text></g>
<g id="SP149"><circle class="b" cx="307" cy="3801" r="0.9"/><circle class="r" cx="320" cy="3801" r="1.11"/><text x="334" y="3804.3">SP149 Catonella morbi (0.13%|0.28%)</text></g>
<g id="SP143"><circle class="b" cx="286" cy="3821" r="1.03"/><circle class="r" cx="299" cy="3821" r="0.98"/><text x="313" y="3824.3">SP143 Stomatobaculum sp._oral_taxon_097 (0.24%|0.22%)</text></g>
<g id="SP273"><circle class="b" cx="284" cy="3841" r="0.9"/><circle class="r" cx="297" cy="3841" r="0.9"/><text x="311" y="3844.3">SP273 Stomatobaculum longum (0.04%|0.13%)</text></g>
<g id="legend">
<circle class="b" cx="11" cy="3820" r="5.2"/><text x="21.7" y="3824.3" style="font-size:8.2px">Yes</text>
<circle class="r" cx="11" cy="3841" r="5.2"/><text x="21.7" y="3844.3" style="font-size:8.2px">No</text>
</g>
<g id="scale">
<text class="sc" x="9" y="3867" style="font-size:13px">substitutions/site</text>
<text class="sc" x="6" y="3881" style="font-size:10px">0</text>
<text class="sc" x="71.7" y="3881" style="font-size:10px">0.2</text>
<text class="sc" x="145" y="3881" style="font-size:10px">0.4</text>
<text class="sc" x="218.5" y="3881" style="font-size:10px">0.6</text>
<text class="sc" x="292.5" y="3881" style="font-size:10px">0.8</text>
<path class="tree" d="M8.3 3888.5H339 M8.3 3885V3888.5 M82.3 3885V3888.5 M156.3 3885V3888.5 M230.3 3885V3888.5 M304.3 3885V3888.5"/>
</g>
</svg>
